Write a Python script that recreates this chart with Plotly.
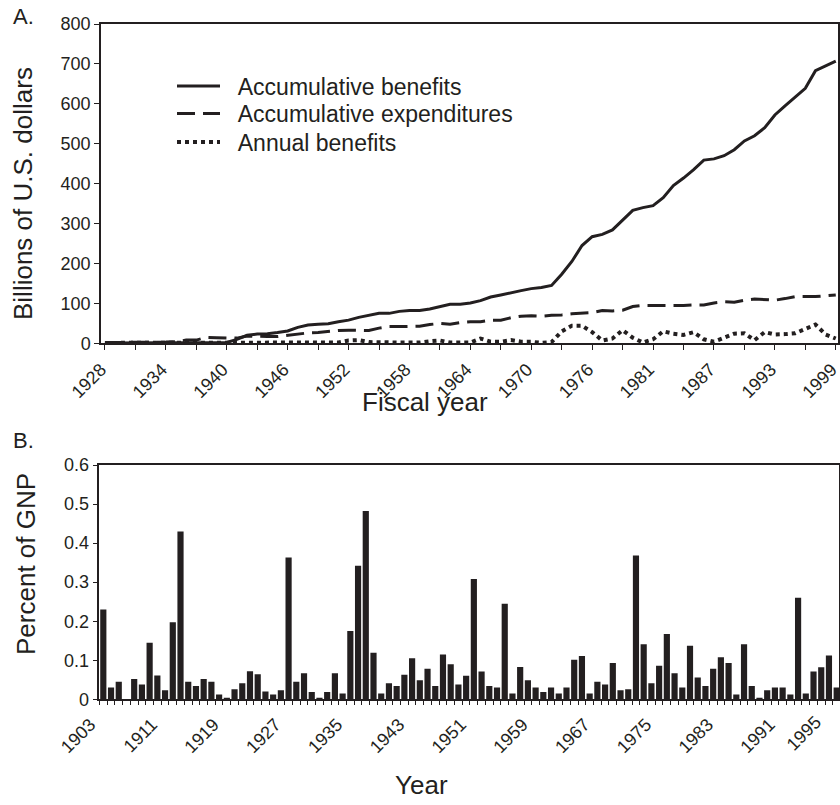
import plotly.graph_objects as go

# ---------------- Panel A data (billions of U.S. dollars) ----------------
fiscal_years = [str(y) for y in range(1928, 1977)] + ["TQ"] + [str(y) for y in range(1977, 2000)]
acc_benefits = [1, 1, 1, 1, 1, 2, 2, 2, 2, 2, 2, 2,
                2, 10, 20, 23, 24, 27, 31, 40, 46, 48, 49, 54,
                58, 65, 70, 75, 75, 80, 82, 82, 86, 92, 98, 98,
                101, 107, 116, 121, 127, 132, 137, 140, 145, 173, 205, 245,
                267, 273, 284, 308, 333, 340, 345, 365, 395, 414, 435, 459,
                462, 470, 485, 507, 520, 540, 572, 595, 616, 639, 683, 696,
                707]
acc_expenditures = [2, 2, 2, 3, 3, 3, 3, 4, 8, 8, 15, 14,
                    13, 13, 18, 17, 17, 17, 20, 24, 26, 27, 30, 32,
                    33, 33, 32, 38, 42, 42, 43, 43, 47, 50, 48, 52,
                    54, 54, 58, 58, 64, 68, 69, 68, 70, 71, 74, 75,
                    77, 82, 81, 83, 92, 95, 95, 94, 95, 95, 96, 96,
                    101, 104, 103, 108, 111, 110, 108, 112, 117, 117, 117, 119,
                    121]
annual_benefits = [1, 1, 1, 1, 1, 1, 1, 1, 1, 1, 1, 1,
                   1, 1, 2, 2, 2, 2, 2, 2, 2, 2, 2, 2,
                   7, 8, 3, 2, 2, 2, 2, 2, 5, 7, 2, 1,
                   2, 12, 4, 4, 8, 4, 4, 1, 3, 30, 44, 44,
                   28, 7, 12, 33, 14, 2, 10, 30, 24, 21, 28, 10,
                   4, 14, 24, 25, 8, 28, 22, 23, 25, 36, 47, 22,
                   12]
fiscal_tick_labels = ["1928", "1934", "1940", "1946", "1952", "1958", "1964",
                      "1970", "1976", "1981", "1987", "1993", "1999"]
series_names = ["Accumulative benefits", "Accumulative expenditures", "Annual benefits"]

# ---------------- Panel B data (percent of GNP) ----------------
gnp_percent = [0.230, 0.030, 0.045, 0.0, 0.052, 0.038, 0.145, 0.061, 0.023, 0.197,
               0.430, 0.045, 0.034, 0.052, 0.045, 0.012, 0.004, 0.026, 0.041, 0.072,
               0.064, 0.020, 0.012, 0.023, 0.363, 0.045, 0.067, 0.019, 0.004, 0.019,
               0.067, 0.015, 0.175, 0.342, 0.482, 0.119, 0.015, 0.041, 0.034, 0.063,
               0.105, 0.049, 0.078, 0.034, 0.115, 0.090, 0.038, 0.060, 0.308, 0.071,
               0.034, 0.030, 0.245, 0.015, 0.083, 0.049, 0.030, 0.019, 0.030, 0.015,
               0.030, 0.101, 0.111, 0.015, 0.045, 0.038, 0.093, 0.023, 0.026, 0.368,
               0.141, 0.041, 0.086, 0.167, 0.067, 0.030, 0.137, 0.056, 0.034, 0.078,
               0.108, 0.093, 0.012, 0.141, 0.034, 0.004, 0.023, 0.030, 0.030, 0.012,
               0.260, 0.015, 0.071, 0.082, 0.112, 0.030]
gnp_tick_labels = ["1903", "1911", "1919", "1927", "1935", "1943", "1951",
                   "1959", "1967", "1975", "1983", "1991", "1995"]

INK = "#231f20"
FONT = "Liberation Sans, Arial, Helvetica, sans-serif"
W, H = 840, 805
NB = "\u00a0\u00a0"  # small gap between legend sample and text

xa = list(range(len(fiscal_years)))
xb = list(range(len(gnp_percent)))

fig = go.Figure()
fig.add_trace(go.Scatter(x=xa, y=acc_benefits, mode="lines", name=NB + series_names[0],
                         line=dict(color=INK, width=3), xaxis="x", yaxis="y", legend="legend"))
fig.add_trace(go.Scatter(x=xa, y=acc_expenditures, mode="lines", name=NB + series_names[1],
                         line=dict(color=INK, width=3, dash="18px,8px"), xaxis="x", yaxis="y",
                         legend="legend2"))
fig.add_trace(go.Scatter(x=xa, y=annual_benefits, mode="lines", name=NB + series_names[2],
                         line=dict(color=INK, width=4, dash="4px,4px"), xaxis="x", yaxis="y",
                         legend="legend3"))
fig.add_trace(go.Bar(x=xb, y=gnp_percent, width=0.8, marker=dict(color=INK, line=dict(width=0)),
                     showlegend=False, xaxis="x2", yaxis="y2"))

# domains (pixels -> paper)
xa_dom = [101 / W, 838 / W]
ya_dom = [1 - 343.3 / H, 1 - 24 / H]
xb_dom = [99.3 / W, 839.3 / W]
yb_dom = [1 - 699.3 / H, 1 - 465 / H]
xa_range = [-0.39, len(fiscal_years) - 1 + 0.22]
xb_range = [-0.52, len(gnp_percent) - 1 + 0.34]

a_tickvals = list(range(0, len(fiscal_years), 3))
a_ticktext = [fiscal_tick_labels[v // 6] if v % 6 == 0 else "" for v in a_tickvals]
b_tickvals = [8 * i for i in range(len(gnp_tick_labels))]

TICKFONT = dict(family=FONT, size=18, color=INK)
axis_common = dict(showgrid=False, zeroline=False, showline=True, linecolor=INK, linewidth=1.5,
                   mirror=True, tickcolor=INK, tickwidth=1.2, automargin=False,
                   ticklabeloverflow="allow", tickfont=TICKFONT)

leg_common = dict(xanchor="left", yanchor="middle", bgcolor="rgba(0,0,0,0)",
                  font=dict(family=FONT, size=23, color=INK), itemwidth=43)

B_SHIFT = -13   # bottom tick labels sit left of their ticks in the reference
B_STAND = 6

fig.update_layout(
    width=W, height=H, margin=dict(l=0, r=0, t=0, b=0, autoexpand=False),
    paper_bgcolor="white", plot_bgcolor="white",
    font=dict(family=FONT, color=INK),
    xaxis=dict(domain=xa_dom, range=xa_range, anchor="y", tickmode="array", ticks="outside",
               tickvals=a_tickvals, ticktext=a_ticktext, tickangle=-45, ticklen=5,
               ticklabelshift=-4, ticklabelstandoff=2, **axis_common),
    yaxis=dict(domain=ya_dom, range=[0, 800], anchor="x", dtick=100, ticks="outside", ticklen=5,
               **axis_common),
    xaxis2=dict(domain=xb_dom, range=xb_range, anchor="y2", tickmode="array", ticks="outside",
                tickvals=b_tickvals, ticktext=gnp_tick_labels, tickangle=-45, ticklen=0,
                ticklabelshift=B_SHIFT, ticklabelstandoff=B_STAND,
                minor=dict(ticks="outside", tick0=0.5, dtick=1, ticklen=4, tickcolor=INK, tickwidth=1.2),
                **axis_common),
    yaxis2=dict(domain=yb_dom, range=[0, 0.6], anchor="x2", tickmode="array", ticks="outside",
                tickvals=[0, 0.1, 0.2, 0.3, 0.4, 0.5, 0.6],
                ticktext=["0", "0.1", "0.2", "0.3", "0.4", "0.5", "0.6"], ticklen=5, **axis_common),
    legend=dict(x=172 / W, y=1 - 86 / H, **leg_common),
    legend2=dict(x=172 / W, y=1 - 113.5 / H, **leg_common),
    legend3=dict(x=172 / W, y=1 - 142 / H, **leg_common),
    bargap=0.2,
)

# label for category 96 (beyond visible range) placed via the axis scale
frac = (b_tickvals[-1] - xb_range[0]) / (xb_range[1] - xb_range[0])
px_1995 = xb_dom[0] + frac * (xb_dom[1] - xb_dom[0]) + (B_SHIFT - 3) / W

TITLEFONT = dict(family=FONT, size=26, color=INK)
ann = [
    dict(text="A.", x=11 / W, y=1 - 17 / H, xref="paper", yref="paper", xanchor="left", yanchor="middle",
         showarrow=False, font=dict(family=FONT, size=22, color=INK)),
    dict(text="B.", x=11 / W, y=1 - 441 / H, xref="paper", yref="paper", xanchor="left", yanchor="middle",
         showarrow=False, font=dict(family=FONT, size=22, color=INK)),
    dict(text="Billions of U.S. dollars", x=23 / W, y=1 - 194 / H, xref="paper", yref="paper",
         textangle=-90, showarrow=False, xanchor="center", yanchor="middle", font=TITLEFONT),
    dict(text="Percent of GNP", x=26 / W, y=1 - 564 / H, xref="paper", yref="paper",
         textangle=-90, showarrow=False, xanchor="center", yanchor="middle", font=TITLEFONT),
    dict(text="Fiscal year", x=425 / W, y=1 - 402 / H, xref="paper", yref="paper",
         showarrow=False, xanchor="center", yanchor="middle", font=TITLEFONT),
    dict(text="Year", x=421 / W, y=1 - 785 / H, xref="paper", yref="paper",
         showarrow=False, xanchor="center", yanchor="middle", font=TITLEFONT),
    dict(text=gnp_tick_labels[-1], x=px_1995, y=yb_dom[0] - (4 + B_STAND) / H, xref="paper",
         yref="paper", textangle=-45, showarrow=False, xanchor="right", yanchor="top", font=TICKFONT),
]
fig.update_layout(annotations=ann)

fig.write_html("out.html")
